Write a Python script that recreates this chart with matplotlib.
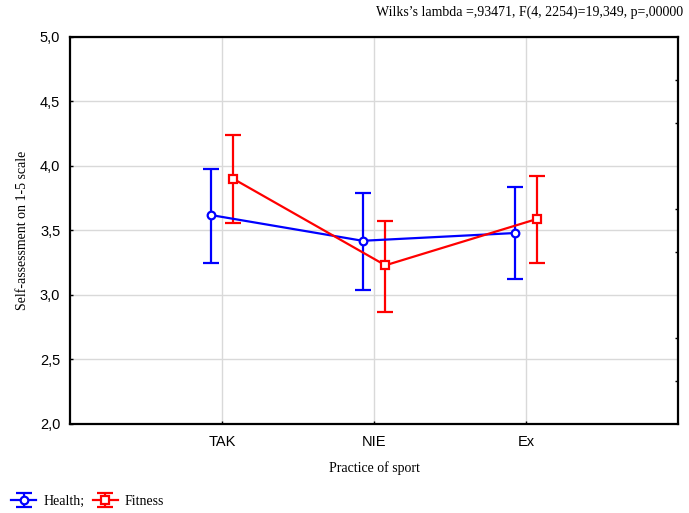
import numpy as np
import matplotlib.pyplot as plt

categories = ["TAK", "NIE", "Ex"]
health_mean = [3.62, 3.42, 3.48]
health_low = [3.25, 3.04, 3.12]
health_high = [3.975, 3.79, 3.835]
fitness_mean = [3.90, 3.23, 3.59]
fitness_low = [3.555, 2.865, 3.25]
fitness_high = [4.24, 3.575, 3.92]

title = "Wilks\u2019s lambda =,93471, F(4, 2254)=19,349, p=,00000"

serif = "Liberation Serif"
sans = "Liberation Sans"

fig = plt.figure(figsize=(6.89, 5.13), dpi=100)
ax = fig.add_axes([0.1016, 0.1735, 0.8824, 0.7545])

x = np.arange(1, len(categories) + 1)
off = 0.075


def draw(xs, mean, low, high, color, marker, label):
    mean = np.array(mean)
    err = [mean - np.array(low), np.array(high) - mean]
    ax.errorbar(xs, mean, yerr=err, color=color, lw=1.6, elinewidth=1.6,
                capsize=5.5, capthick=1.6, marker=marker, ms=5.5,
                mfc="white", mec=color, mew=1.6, label=label, zorder=3)


draw(x - off, health_mean, health_low, health_high, "#0000ff", "o", "Health;")
draw(x + off, fitness_mean, fitness_low, fitness_high, "#ff0000", "s", "Fitness")

ax.set_xlim(0, 4)
ax.set_ylim(2.0, 5.0)
ax.set_xticks(x)
ax.set_xticklabels(categories, fontfamily=sans, fontsize=10.5)
ax.set_yticks(np.arange(2.0, 5.01, 0.5))
ax.set_yticklabels([f"{v:.1f}".replace(".", ",") for v in np.arange(2.0, 5.01, 0.5)],
                   fontfamily=sans, fontsize=10.5)
ax.set_yticks(np.arange(2 + 1 / 3, 5.0, 1 / 3), minor=True)
ax.tick_params(which="major", direction="in", length=2, width=1,
               left=True, right=False, bottom=True, top=False)
ax.tick_params(axis="x", pad=8)
ax.tick_params(axis="y", pad=7)
ax.tick_params(which="minor", direction="in", length=2, width=1,
               left=False, right=True)
ax.grid(True, color="#d9d9d9", lw=1)
ax.set_axisbelow(True)
for s in ax.spines.values():
    s.set_linewidth(1.6)

ax.set_xlabel("Practice of sport", fontfamily=serif, fontsize=10, labelpad=8.5)
ax.set_ylabel("Self-assessment on 1-5 scale", fontfamily=serif, fontsize=10, labelpad=8)

fig.text(0.991, 0.976, title, ha="right", va="center", fontfamily=serif, fontsize=10)

fig.legend(loc="lower left", bbox_to_anchor=(0.0, -0.012), ncol=2, frameon=False,
           prop={"family": serif, "size": 10}, handlelength=1.8, handletextpad=0.5,
           columnspacing=0.6, borderaxespad=0.4)

fig.savefig("out.png", dpi=100)
